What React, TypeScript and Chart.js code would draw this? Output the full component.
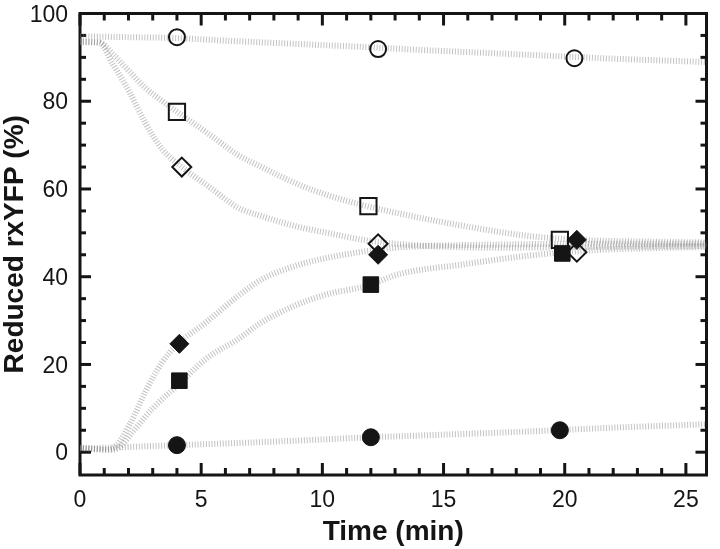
import React, { useEffect, useRef } from "react";
import { Chart, registerables } from "chart.js";

Chart.register(...registerables);

// Axis ticks
const xTickValues = [0, 5, 10, 15, 20, 25];
const yTickValues = [0, 20, 40, 60, 80, 100];
const xTitle = "Time (min)";
const yTitle = "Reduced rxYFP (%)";

// Measured markers (time in min, reduced rxYFP %)
const openCircleX = [4.0, 12.3, 20.4];
const openCircleY = [94.6, 91.9, 89.8];
const openSquareX = [4.0, 11.9, 19.8];
const openSquareY = [77.6, 56.1, 48.4];
const openDiamondX = [4.2, 12.3, 20.5];
const openDiamondY = [65.0, 47.5, 45.6];
const filledDiamondX = [4.1, 12.3, 20.5];
const filledDiamondY = [24.7, 45.0, 48.4];
const filledSquareX = [4.1, 12.0, 19.9];
const filledSquareY = [16.3, 38.2, 45.3];
const filledCircleX = [4.0, 12.0, 19.8];
const filledCircleY = [1.6, 3.4, 5.0];

// Continuous traces
const traceTopX = [0, 2, 4, 6, 8, 10, 12, 14, 16, 18, 20, 22, 24, 26];
const traceTopY = [94.8, 94.6, 94.4, 93.8, 93.3, 92.8, 92.3, 91.7, 91.2, 90.7, 90.2, 89.7, 89.3, 88.9];

const traceSquareX = [0, 0.8, 1.4, 2.0, 2.7, 3.4, 4.0, 5.45, 6.5, 7.5, 8.9, 10.2, 11.9, 13.1, 15.8, 18.5, 21, 23.5, 26];
const traceSquareY = [93.5, 93.4, 90.5, 87.0, 83.0, 80.0, 77.6, 72.0, 67.8, 65.0, 61.3, 58.6, 56.0, 54.5, 51.6, 49.3, 48.3, 48.0, 47.8];

const traceDiamondX = [0, 0.8, 1.35, 2.05, 2.7, 3.4, 4.2, 5.45, 6.5, 7.5, 8.9, 10.2, 11.9, 13.5, 17.2, 21, 26];
const traceDiamondY = [93.5, 93.3, 88.5, 82.0, 75.0, 69.0, 65.0, 60.0, 55.8, 53.8, 51.5, 50.0, 48.2, 47.3, 46.6, 46.8, 47.0];

const traceFDiamondX = [0, 1.0, 1.35, 2.05, 2.7, 3.4, 4.05, 5.2, 6.5, 7.5, 8.9, 10.2, 11.9, 13.5, 17, 21, 26];
const traceFDiamondY = [1.0, 0.6, 0.9, 6.3, 13.8, 20.6, 24.7, 29.6, 35.5, 39.4, 42.5, 44.3, 45.9, 46.8, 47.3, 47.5, 47.5];

const traceFSquareX = [0, 1.3, 1.6, 2.2, 3.0, 4.1, 5.2, 6.5, 7.5, 8.9, 10.2, 11.9, 13.1, 15.8, 18.5, 21, 23.5, 26];
const traceFSquareY = [1.0, 0.5, 1.0, 4.8, 10.0, 15.6, 21.3, 25.7, 29.6, 33.5, 36.0, 38.0, 40.5, 42.8, 44.8, 46.0, 46.5, 46.8];

const traceBottomX = [0, 2, 4, 6, 8, 10, 12, 14, 16, 18, 20, 22, 24, 26];
const traceBottomY = [0.8, 1.2, 1.6, 2.0, 2.4, 2.9, 3.4, 3.8, 4.2, 4.6, 5.1, 5.6, 6.0, 6.4];

const zip = (xs: number[], ys: number[]) => xs.map((x, i) => ({ x, y: ys[i] }));

const INK = "#151515";
const FONT = "'Liberation Sans', Arial, sans-serif";

const framePlugin = {
  id: "frameTicks",
  beforeDatasetsDraw(chart: any) {
    const { ctx, chartArea, scales } = chart;
    const { left, right, top, bottom } = chartArea;
    const xs = scales.x;
    const ys = scales.y;
    ctx.save();
    ctx.strokeStyle = INK;
    ctx.lineWidth = 3;
    ctx.lineCap = "butt";
    const seg = (x1: number, y1: number, x2: number, y2: number) => {
      ctx.beginPath();
      ctx.moveTo(x1, y1);
      ctx.lineTo(x2, y2);
      ctx.stroke();
    };
    for (let v = 0; v <= 25; v += 1) {
      const px = xs.getPixelForValue(v);
      const len = v % 5 === 0 ? 12 : 7;
      seg(px, bottom, px, bottom - len);
      seg(px, top, px, top + len);
    }
    for (let v = 0; v <= 100; v += 5) {
      const py = ys.getPixelForValue(v);
      const len = v % 20 === 0 ? 11 : 6;
      seg(left, py, left + len, py);
      seg(right, py, right - len, py);
    }
    ctx.strokeRect(left, top, right - left, bottom - top);

    // tick labels
    ctx.fillStyle = INK;
    ctx.font = `23px ${FONT}`;
    ctx.textAlign = "center";
    ctx.textBaseline = "alphabetic";
    xTickValues.forEach((v) => {
      ctx.fillText(String(v), xs.getPixelForValue(v), bottom + 32);
    });
    ctx.textAlign = "right";
    yTickValues.forEach((v) => {
      ctx.fillText(String(v), left - 12, ys.getPixelForValue(v) + 8.2);
    });

    // axis titles
    ctx.font = `bold 28px ${FONT}`;
    ctx.textAlign = "center";
    ctx.textBaseline = "middle";
    ctx.fillText(xTitle, (left + right) / 2, 532);
    ctx.save();
    ctx.translate(15, (top + bottom) / 2);
    ctx.rotate(-Math.PI / 2);
    ctx.fillText(yTitle, 0, 0);
    ctx.restore();
    ctx.restore();
  },
};

const traceStyle = (data: { x: number; y: number }[]) => ({
  type: "line" as const,
  data,
  showLine: true,
  borderColor: "rgba(120,120,120,0.45)",
  borderWidth: 6,
  borderDash: [1, 1.8],
  pointRadius: 0,
  cubicInterpolationMode: "monotone" as const,
  order: 5,
});

const markerStyle = (
  data: { x: number; y: number }[],
  pointStyle: string,
  radius: number,
  filled: boolean
) => ({
  type: "scatter" as const,
  data,
  showLine: false,
  pointStyle,
  pointRadius: radius,
  pointBackgroundColor: filled ? INK : "rgba(0,0,0,0)",
  pointBorderColor: INK,
  pointBorderWidth: filled ? 1 : 2,
  order: 0,
});

export default function App() {
  const ref = useRef<HTMLCanvasElement | null>(null);
  useEffect(() => {
    if (!ref.current) return;
    const chart = new Chart(ref.current, {
      type: "scatter",
      data: {
        datasets: [
          markerStyle(zip(openCircleX, openCircleY), "circle", 8, false),
          markerStyle(zip(openSquareX, openSquareY), "rect", 11.5, false),
          markerStyle(zip(openDiamondX, openDiamondY), "rectRot", 9.5, false),
          markerStyle(zip(filledDiamondX, filledDiamondY), "rectRot", 9.5, true),
          markerStyle(zip(filledSquareX, filledSquareY), "rect", 11, true),
          markerStyle(zip(filledCircleX, filledCircleY), "circle", 8.5, true),
          traceStyle(zip(traceTopX, traceTopY)),
          traceStyle(zip(traceSquareX, traceSquareY)),
          traceStyle(zip(traceDiamondX, traceDiamondY)),
          traceStyle(zip(traceFDiamondX, traceFDiamondY)),
          traceStyle(zip(traceFSquareX, traceFSquareY)),
          traceStyle(zip(traceBottomX, traceBottomY)),
        ] as any,
      },
      options: {
        animation: false,
        responsive: false,
        devicePixelRatio: 1,
        layout: { padding: { top: 9, right: 6, left: 0, bottom: 0 } },
        plugins: {
          legend: { display: false },
          tooltip: { enabled: false },
        },
        scales: {
          x: {
            type: "linear",
            min: 0,
            max: 25.85,
            grid: { display: false, drawTicks: false },
            border: { display: false },
            ticks: { display: false },
            title: { display: false },
            afterFit: (s: any) => {
              s.height = 74;
            },
          },
          y: {
            type: "linear",
            min: -5.2,
            max: 100,
            grid: { display: false, drawTicks: false },
            border: { display: false },
            ticks: { display: false },
            title: { display: false },
            afterFit: (s: any) => {
              s.width = 80;
            },
          },
        },
      },
      plugins: [framePlugin],
    } as any);
    return () => chart.destroy();
  }, []);

  return (
    <div style={{ position: "fixed", left: 0, top: 0, width: 720, height: 549, background: "#fff" }}>
      <canvas ref={ref} width={720} height={549} style={{ width: 720, height: 549 }} />
    </div>
  );
}
